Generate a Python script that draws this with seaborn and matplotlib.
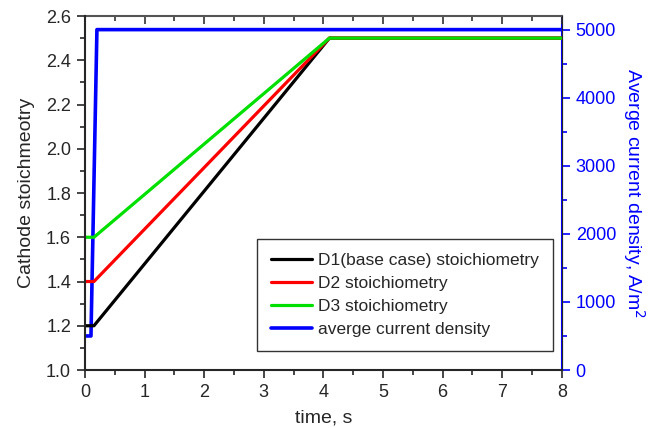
import pandas as pd
import matplotlib.pyplot as plt
import seaborn as sns
from matplotlib.ticker import MultipleLocator

# 数据
t_stoich = [0.0, 0.15, 4.1, 8.0]
d1_stoich = [1.2, 1.2, 2.5, 2.5]
d2_stoich = [1.4, 1.4, 2.5, 2.5]
d3_stoich = [1.6, 1.6, 2.5, 2.5]
t_current = [0.0, 0.1, 0.2, 8.0]
avg_current = [500, 500, 5000, 5000]

labels = ['D1(base case) stoichiometry', 'D2 stoichiometry', 'D3 stoichiometry']
colors = ['black', 'red', '#00e000']

sns.set_style('ticks')
plt.rcParams['font.family'] = ['Liberation Sans', 'DejaVu Sans']

df = pd.DataFrame({
    't': t_stoich * 3,
    'value': d1_stoich + d2_stoich + d3_stoich,
    'case': sum([[lab] * len(t_stoich) for lab in labels], []),
})
df_cur = pd.DataFrame({'t': t_current, 'j': avg_current})

fig = plt.figure(figsize=(6.61, 4.28), dpi=100)
ax = fig.add_axes([0.1286, 0.1355, 0.7214, 0.8271])
sns.lineplot(data=df, x='t', y='value', hue='case', palette=colors, lw=2.3, ax=ax, legend=False)

ax2 = ax.twinx()
sns.lineplot(data=df_cur, x='t', y='j', color='#0000ff', lw=2.6, ax=ax2, legend=False)

ax.set_xlim(0, 8)
ax.set_ylim(1.0, 2.6)
ax2.set_ylim(0, 5200)
ax.xaxis.set_major_locator(MultipleLocator(1))
ax.xaxis.set_minor_locator(MultipleLocator(0.5))
ax.yaxis.set_major_locator(MultipleLocator(0.2))
ax.yaxis.set_minor_locator(MultipleLocator(0.1))
ax2.yaxis.set_major_locator(MultipleLocator(1000))
ax2.yaxis.set_minor_locator(MultipleLocator(500))

ax.tick_params(axis='both', which='major', labelsize=13, length=6, width=1.2, direction='out', pad=4)
ax.tick_params(axis='both', which='minor', length=3.5, width=1.2, direction='out')
ax.set_xlabel('time, s', fontsize=14, labelpad=6)
ax.set_ylabel('Cathode stoichmeotry', fontsize=14, labelpad=8)

# top axis: inward ticks, no labels
top = ax.secondary_xaxis('top')
top.xaxis.set_major_locator(MultipleLocator(1))
top.xaxis.set_minor_locator(MultipleLocator(0.5))
top.tick_params(which='major', direction='in', length=6, width=1.2, labeltop=False, color='#333333')
top.tick_params(which='minor', direction='in', length=3.5, width=1.2, color='#333333')
top.spines['top'].set_color('#555555')
top.spines['top'].set_linewidth(1.5)

ax2.tick_params(axis='y', which='major', labelsize=13, length=6, width=1.2, colors='#0000ff', pad=4)
ax2.tick_params(axis='y', which='minor', length=3.5, width=1.2, colors='#0000ff')
ax2.set_ylabel('Averge current density, A/m$^2$', fontsize=14, color='#0000ff', rotation=270, labelpad=22)

for sp in ['left', 'bottom']:
    ax.spines[sp].set_linewidth(1.5)
ax.spines['top'].set_visible(False)
ax2.spines['top'].set_visible(False)
ax2.spines['right'].set_color('#0000ff')
ax2.spines['right'].set_linewidth(1.5)
ax2.spines['left'].set_visible(False)
ax2.spines['bottom'].set_visible(False)

# 图例 all four lines in one box
handles = ax.get_lines()[:3] + ax2.get_lines()[:1]
leg = ax.legend(handles, labels + ['averge current density'], loc='lower right',
                bbox_to_anchor=(0.981, 0.054), borderaxespad=0, fontsize=12.5, frameon=True,
                fancybox=False, edgecolor='black', handlelength=2.35, handletextpad=0.35,
                labelspacing=0.45, borderpad=0.8)
leg.get_frame().set_linewidth(1.0)
leg.set_zorder(5)
ax.set_zorder(ax2.get_zorder() + 1)
ax.patch.set_visible(False)

fig.savefig('out.png', dpi=100)
